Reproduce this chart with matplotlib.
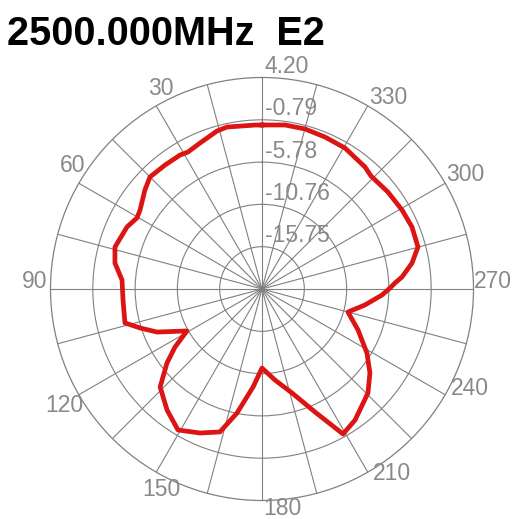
import numpy as np
import matplotlib
matplotlib.use('Agg')
import matplotlib.pyplot as plt

plt.rcParams['font.family'] = ['Liberation Sans', 'DejaVu Sans']

title = '2500.000MHz  E2'

# pattern: angle (deg, CCW from top) -> gain (dB)
angles_deg = [0.0, 2.4, 12.2, 15.9, 23.0, 28.4, 31.5, 38.0, 45.0, 49.8,
              57.1, 60.4, 65.3, 74.1, 80.0, 86.3, 94.5, 103.9, 107.7, 112.3,
              119.2, 123.7, 127.9, 133.9, 141.9, 149.2, 156.7, 163.6, 168.6, 174.8,
              180.0, 188.1, 196.1, 203.3, 209.2, 215.4, 225.5, 232.1, 238.6, 246.9,
              255.0, 261.2, 267.1, 270.4, 272.6, 274.9, 279.8, 285.1, 292.5, 299.4,
              307.6, 316.0, 319.8, 329.5, 337.5, 345.0, 352.0]
gain_db = [-1.40, -1.39, -1.20, -1.37, -2.04, -2.38, -2.22, -2.18, -2.06, -2.66,
           -3.61, -3.78, -3.22, -2.71, -3.13, -4.20, -4.30, -4.09, -5.64, -7.36,
           -10.60, -8.41, -6.54, -4.07, -2.60, -1.39, -2.25, -3.17, -5.82, -9.14,
           -11.42, -9.90, -7.98, -4.95, -1.15, -1.79, -3.23, -4.61, -6.24, -8.43,
           -10.25, -8.45, -6.58, -5.65, -5.04, -4.17, -2.79, -1.69, -1.60, -1.78,
           -2.00, -2.23, -1.91, -1.45, -1.34, -1.20, -1.21]

ring_values = [4.20, -0.79, -5.78, -10.76, -15.75]
r_min = -20.74
angle_labels = [30, 60, 90, 120, 150, 180, 210, 240, 270, 300, 330]

grid_col = '#808080'
label_col = '#898989'

fig = plt.figure(figsize=(5.14, 5.19), dpi=100)
ax = fig.add_axes([50.5 / 514, 18.5 / 519, 423 / 514, 423 / 519], projection='polar')
ax.set_theta_zero_location('N')
ax.set_theta_direction(1)
ax.set_rlim(r_min, ring_values[0])

ax.set_thetagrids(np.arange(0, 360, 15), labels=[''] * 24)
ax.set_rgrids(ring_values[1:], labels=[''] * 4)
ax.grid(True, color=grid_col, lw=0.8)
ax.spines['polar'].set_color(grid_col)
ax.spines['polar'].set_linewidth(0.9)
ax.tick_params(length=0)

th = np.deg2rad(angles_deg + [angles_deg[0] + 360])
rr = gain_db + [gain_db[0]]
ax.plot(th, rr, color='#dc1414', lw=3.4, solid_joinstyle='round', zorder=5)

# radial ring labels, just right of the 0 deg spoke
for v in ring_values:
    ax.annotate(f'{v:.2f}', xy=(0, v), xytext=(2.5, 4.5), textcoords='offset pixels',
                ha='left', va='baseline', fontsize=16.5, color=label_col,
                annotation_clip=False, zorder=6)

# angle labels: offsets (px) of each label centre from the rim point
offsets = {30: (5, -17), 60: (-6, -17), 90: (-16, -7), 120: (-15, 11),
           150: (5, 18), 180: (20, 8.5), 210: (24, 2), 240: (25, -6),
           270: (19, -7), 300: (20, -8), 330: (20, -8)}
for a in angle_labels:
    ox, oy = offsets[a]
    ax.annotate(str(a), xy=(np.deg2rad(a), ring_values[0]),
                xytext=(ox, -oy - 6), textcoords='offset pixels',
                ha='center', va='baseline', fontsize=16.5, color=label_col,
                annotation_clip=False)

fig.text(7 / 514, 1 - 45 / 519, title, fontsize=28.5, fontweight='bold',
         color='black', ha='left', va='baseline')

fig.savefig('out.png', dpi=100, facecolor='white')
